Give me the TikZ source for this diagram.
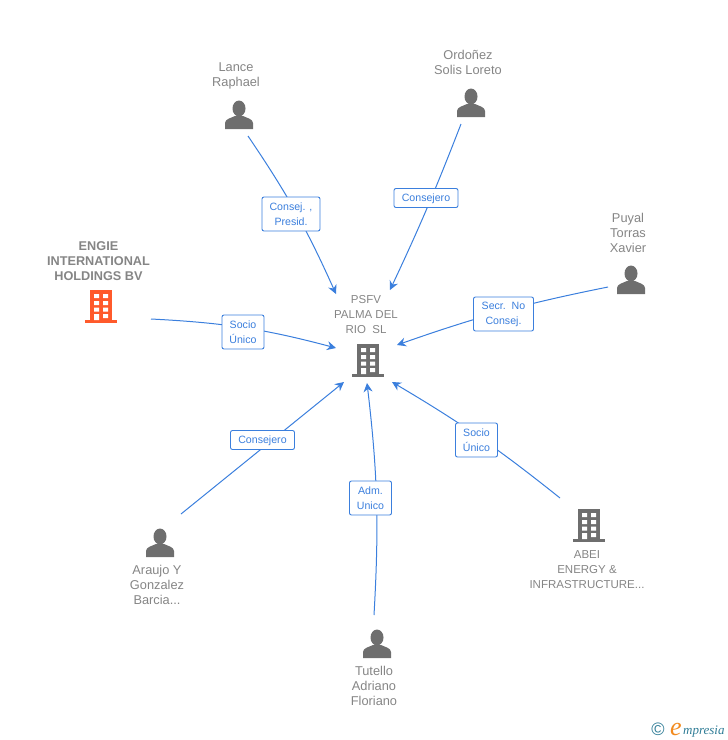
\documentclass[tikz,border=0pt]{standalone}
\usepackage{fontspec}
\setmainfont{Liberation Sans}
\newfontfamily\logofont{Liberation Serif}
\usetikzlibrary{arrows.meta}
\definecolor{linkblue}{HTML}{3B7FDD}
\definecolor{namegray}{HTML}{858585}
\definecolor{icongray}{HTML}{6E6E6E}
\definecolor{engieorange}{HTML}{FF5A2B}
\definecolor{logoteal}{HTML}{2F7C96}
\definecolor{logoorange}{HTML}{F28A1E}
\begin{document}
\begin{tikzpicture}[
  x=1pt, y=-1pt,
  namelabel/.style={text=namegray, font=\fontsize{12.8}{15}\selectfont, align=center, inner sep=0pt},
  capslabel/.style={namelabel, font=\fontsize{11.5}{15}\selectfont},
  boldlabel/.style={namelabel, font=\fontsize{12.7}{15}\selectfont\bfseries},
  link/.style={draw=linkblue, line width=1pt, -{Stealth[length=9pt, width=9pt, inset=3pt]}},
  tag/.style={draw=linkblue, fill=white, rounded corners=2pt, line width=0.9pt, text=linkblue,
    font=\fontsize{10.6}{15}\selectfont, align=center, inner sep=0pt, minimum height=19pt},
  bigtag/.style={tag, minimum height=34pt},
  pics/person/.style={code={
    \fill[icongray] (-14,28) -- (-14,22) .. controls (-14,18) and (-8,17) .. (-4,15)
      -- (4,15) .. controls (8,17) and (14,18) .. (14,22) -- (14,28) -- cycle;
    \fill[icongray] (0,7.5) ellipse (6.5 and 8);
  }},
  pics/building/.style={code={
    \fill[#1] (-11,0) rectangle (11,30);
    \fill[#1] (-16,30) rectangle (16,33);
    \fill[white] (-7,4) rectangle (-2,8) (2,4) rectangle (7,8)
      (-7,11) rectangle (-2,15) (2,11) rectangle (7,15)
      (-7,17.5) rectangle (-2,21.5) (2,17.5) rectangle (7,21.5)
      (-7,24) rectangle (-2,30) (2,24) rectangle (7,28);
  }}
]
\useasboundingbox (0,0) rectangle (728,740);
% people
\node[namelabel] (lance) at (236,75.5) {Lance\\Raphael};
\pic at (239,101) {person};
\node[namelabel] (ordonez) at (468,62.5) {Ordoñez\\Solis Loreto};
\pic at (471,89) {person};
\node[namelabel] (puyal) at (628,233) {Puyal\\Torras\\Xavier};
\pic at (631,266) {person};
\node[namelabel] (araujo) at (157,585) {Araujo Y\\Gonzalez\\Barcia...};
\pic at (160,529) {person};
\node[namelabel] (tutello) at (374,686) {Tutello\\Adriano\\Floriano};
\pic at (377,630) {person};
% companies
\node[boldlabel] (engie) at (98.5,261) {ENGIE\\INTERNATIONAL\\HOLDINGS BV};
\pic at (101,290) {building=engieorange};
\node[capslabel] (psfv) at (366,314.5) {PSFV\\PALMA DEL\\RIO\ \ SL};
\pic at (368,344) {building=icongray};
\node[capslabel] (abei) at (587,570) {ABEI\\ENERGY \&\\INFRASTRUCTURE...};
\pic at (589,509) {building=icongray};
% connector ends
\coordinate (lance end) at (248,136);
\coordinate (ordonez end) at (461,124);
\coordinate (puyal end) at (608,287);
\coordinate (engie end) at (151,319);
\coordinate (araujo end) at (181,514);
\coordinate (tutello end) at (374,615);
\coordinate (abei end) at (560,498);
\coordinate (lance tip) at (336,294);
\coordinate (ordonez tip) at (390,290);
\coordinate (puyal tip) at (397,345);
\coordinate (engie tip) at (336,348);
\coordinate (araujo tip) at (344,382);
\coordinate (tutello tip) at (367,383);
\coordinate (abei tip) at (392,382);
% connectors
\draw[link] (lance end) to[bend left=5] (lance tip);
\draw[link] (ordonez end) to[bend left=2] (ordonez tip);
\draw[link] (puyal end) to[bend right=4] (puyal tip);
\draw[link] (engie end) to[bend left=6] (engie tip);
\draw[link] (araujo end) -- (araujo tip);
\draw[link] (tutello end) to[bend right=5] (tutello tip);
\draw[link] (abei end) to[bend right=4] (abei tip);
% tags
\node[bigtag, minimum width=58pt] (lance tag) at (291,214) {Consej. ,\\Presid.};
\node[tag, minimum width=64pt, text height=8pt, text depth=1pt] (ordonez tag) at (426,198) {Consejero};
\node[bigtag, minimum width=60pt] (puyal tag) at (503.5,314) {Secr.\ \ No\\Consej.};
\node[bigtag, minimum width=42pt] (engie tag) at (243,332) {Socio\\Único};
\node[tag, minimum width=64pt, text height=8pt, text depth=1pt] (araujo tag) at (262.5,440) {Consejero};
\node[bigtag, minimum width=42pt] (tutello tag) at (370.5,498) {Adm.\\Unico};
\node[bigtag, minimum width=42pt] (abei tag) at (476.5,440) {Socio\\Único};
% logo
\node[inner sep=0pt, text=logoteal, font=\fontsize{18}{18}\selectfont] (copy) at (658,729) {©};
\node[inner sep=0pt, anchor=base west, text=logoorange, font=\logofont\fontsize{26}{26}\selectfont\itshape] (logo e) at (670,735) {e};
\node[inner sep=0pt, anchor=base west, text=logoteal, font=\logofont\fontsize{13}{13}\selectfont\itshape] (logo) at (683,734) {mpresia};
\end{tikzpicture}
\end{document}
